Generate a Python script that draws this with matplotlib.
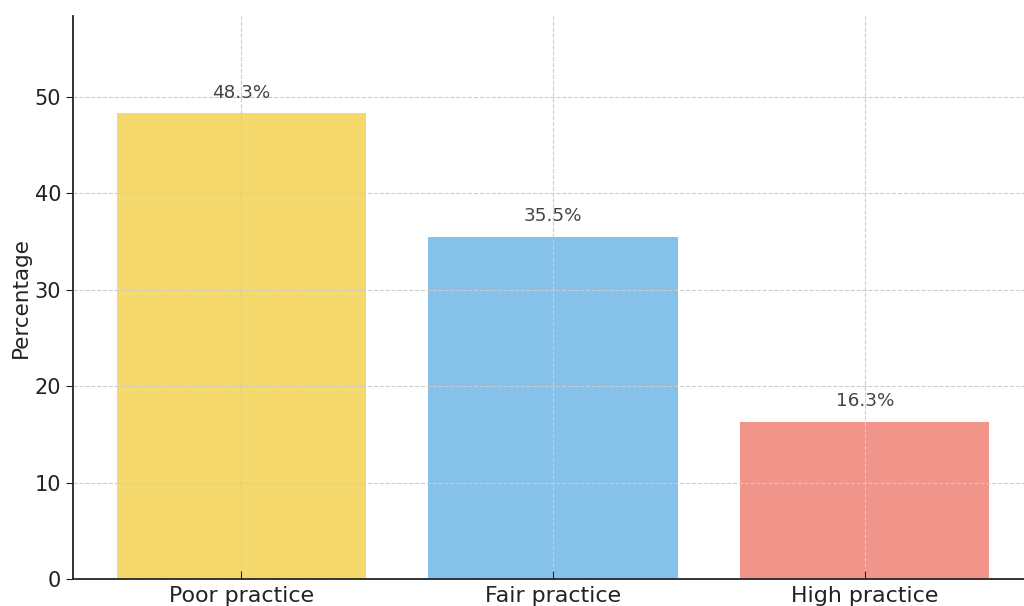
import matplotlib.pyplot as plt

# data
categories = ["Poor practice", "Fair practice", "High practice"]
percentages = [48.3, 35.5, 16.3]
colors = ["#F5D96D", "#85C1E9", "#F1948A"]

fig = plt.figure(figsize=(10.24, 6.06), dpi=100)
# axes run a little past the right edge of the figure, like the reference crop
ax = fig.add_axes([73/1024, 27/606, 960/1024, 563/606])

bars = ax.bar(categories, percentages, color=colors, width=0.8)
for b, v in zip(bars, percentages):
    ax.text(b.get_x() + b.get_width()/2, v + 1.2, f"{v}%",
            ha="center", va="bottom", fontsize=13.2, color="#444444")

ax.set_ylim(0, 58.4)
ax.set_xlim(-0.54, 2.54)
ax.set_ylabel("Percentage", fontsize=15.5, color="#222222", labelpad=3)
ax.grid(True, linestyle="--", color="#cccccc", linewidth=0.8)
ax.set_axisbelow(False)

ax.tick_params(axis="y", labelsize=15, colors="#222222", direction="out", length=5)
ax.tick_params(axis="x", labelsize=15.9, colors="#222222", direction="in", length=6, pad=5)
for lab in ax.get_xticklabels() + ax.get_yticklabels():
    lab.set_color("#222222")

ax.spines["top"].set_visible(False)
ax.spines["right"].set_visible(False)
ax.spines["left"].set_color("#222222")
ax.spines["bottom"].set_color("#222222")
ax.spines["left"].set_linewidth(1.3)
ax.spines["bottom"].set_linewidth(1.3)

fig.savefig("out.png", dpi=100)
